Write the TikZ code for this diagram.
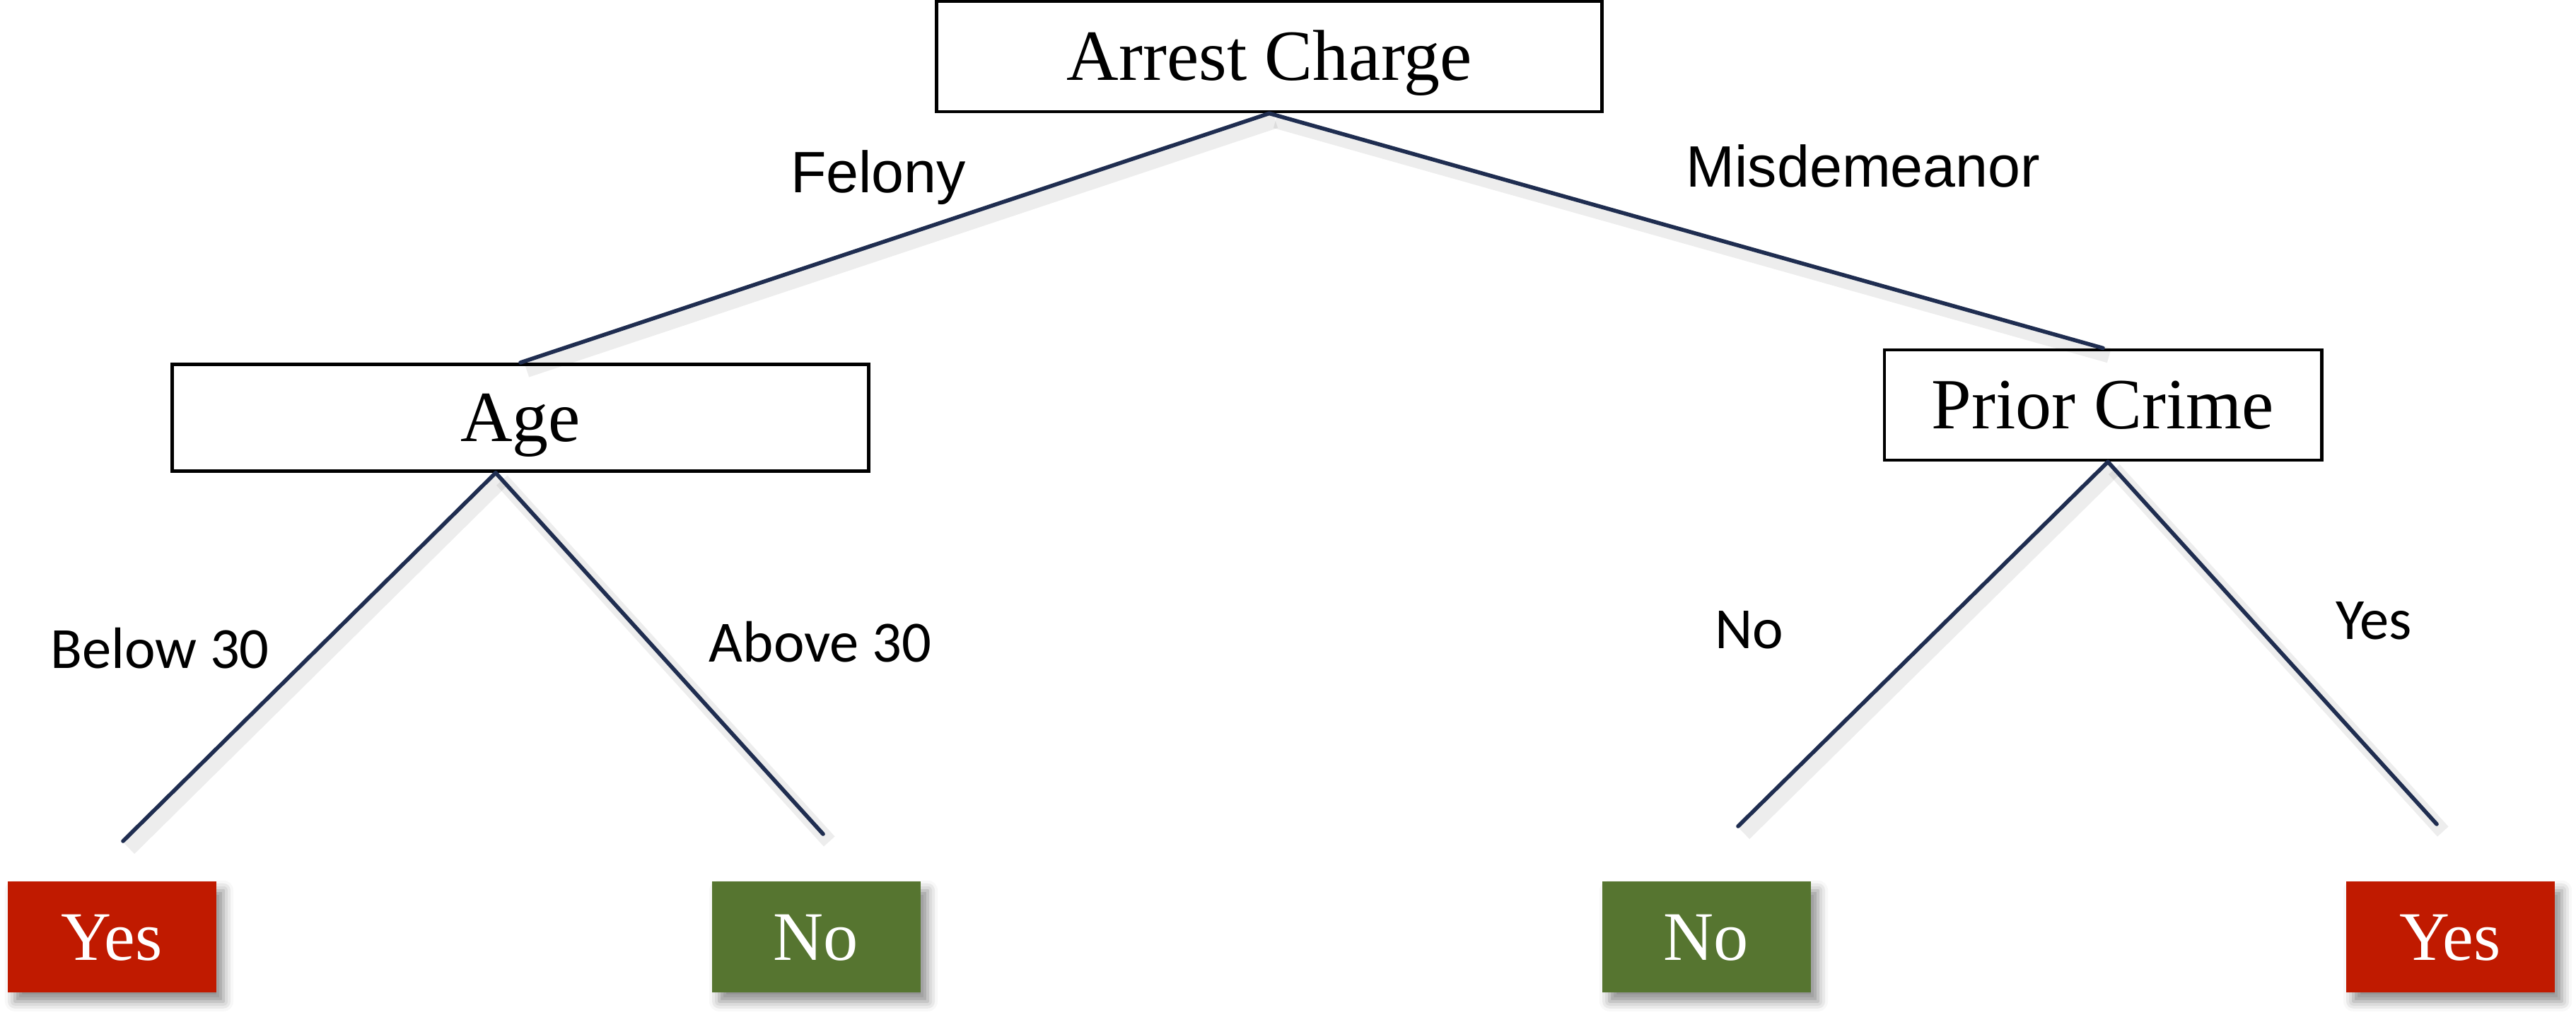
\documentclass[tikz,border=0pt]{standalone}
\usepackage{fontspec}
\usepackage{xcolor}
\usepackage{tikz}
\usetikzlibrary{shadows.blur}
\setmainfont{Liberation Serif}
\newfontfamily\arialfont{Liberation Sans}
\newfontfamily\calibrifont{Carlito}
\definecolor{linenavy}{RGB}{31,45,80}
\definecolor{leafred}{RGB}{192,26,0}
\definecolor{leafgreen}{RGB}{86,117,48}
\tikzset{
  every node/.style={font=\rmfamily},
  arrow/.style={line width=1.6pt, draw=linenavy, line cap=round}
}

\begin{document}
\begin{tikzpicture}[
    splitbox/.style={
        rectangle,
        draw,
        line width=1.4pt,
        fill=white,
        align=center,
        inner sep=0pt,
        text height=19.2pt,
        text depth=0pt,
        font=\fontsize{29}{34}\selectfont
    },
    leafbox/.style={
        rectangle,
        fill=#1,
        text=white,
        align=center,
        inner sep=0pt,
        minimum width=2.95cm,
        minimum height=1.57cm,
        text height=18.5pt,
        text depth=0pt,
        font=\fontsize{28}{33}\selectfont,
        blur shadow={shadow xshift=3pt, shadow yshift=-3.5pt, shadow blur radius=4pt, shadow opacity=45}
    },
    branch/.style={
        arrow,
        preaction={draw=black, opacity=0.07, line width=6pt,
                   transform canvas={xshift=2.5pt, yshift=-3pt}}
    },
    sidelabel/.style={anchor=base, inner sep=0pt, font=\arialfont\fontsize{23.5}{28}\selectfont},
    answerlabel/.style={anchor=base, inner sep=0pt, font=\calibrifont\fontsize{23.5}{28}\selectfont}
]
\useasboundingbox (0,0) rectangle (36.43,14.36);

% Split nodes
\node[splitbox, minimum width=9.41cm, minimum height=1.56cm] (charge) at (17.95,13.56) {Arrest Charge};
\node[splitbox, minimum width=9.85cm, minimum height=1.51cm] (age) at (7.36,8.45) {Age};
\node[splitbox, minimum width=6.18cm, minimum height=1.56cm] (prior) at (29.74,8.63) {Prior Crime};

% Leaf decisions
\node[leafbox=leafred] (yesL) at (1.58,1.10) {Yes};
\node[leafbox=leafgreen] (noL) at (11.54,1.10) {No};
\node[leafbox=leafgreen] (noR) at (24.13,1.10) {No};
\node[leafbox=leafred] (yesR) at (34.65,1.10) {Yes};

% Free ends of the lower branches
\coordinate (belowEnd) at (1.74,2.46);
\coordinate (aboveEnd) at (11.64,2.56);
\coordinate (noEnd) at (24.58,2.67);
\coordinate (yesEnd) at (34.46,2.70);

% Branches
\draw[branch] (charge.south) -- (age.north);
\draw[branch] (charge.south) -- (prior.north);
\draw[branch] ([xshift=-0.35cm]age.south) -- (belowEnd);
\draw[branch] ([xshift=-0.35cm]age.south) -- (aboveEnd);
\draw[branch] ([xshift=0.07cm]prior.south) -- (noEnd);
\draw[branch] ([xshift=0.07cm]prior.south) -- (yesEnd);

% Branch labels
\node[sidelabel] (felony) at (12.42,11.63) {Felony};
\node[sidelabel] (misd) at (26.35,11.71) {Misdemeanor};
\node[answerlabel] (below) at (2.26,4.90) {Below 30};
\node[answerlabel] (above) at (11.60,4.99) {Above 30};
\node[answerlabel] (priorNo) at (24.74,5.18) {No};
\node[answerlabel] (priorYes) at (33.57,5.31) {Yes};

\end{tikzpicture}
\end{document}
